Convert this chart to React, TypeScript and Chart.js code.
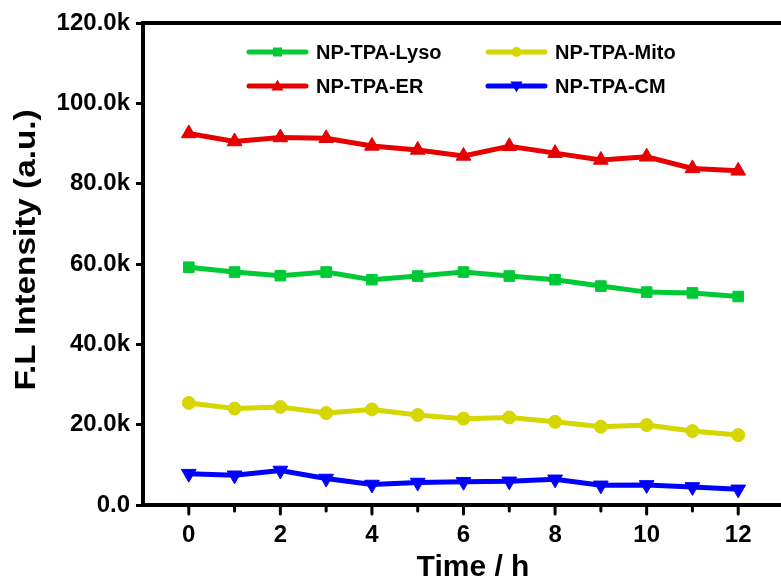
import React, { useEffect, useRef } from "react";
import { Chart, registerables } from "chart.js";

Chart.register(...registerables);

const timeHours = [0, 1, 2, 3, 4, 5, 6, 7, 8, 9, 10, 11, 12];
const lysoValues = [59200, 58000, 57100, 58000, 56100, 57000, 58000, 57000, 56100, 54500, 53000, 52800, 51900];
const mitoValues = [25400, 24000, 24400, 22900, 23800, 22400, 21500, 21800, 20700, 19500, 19900, 18400, 17400];
const erValues = [92500, 90500, 91500, 91300, 89400, 88400, 86900, 89300, 87600, 85900, 86700, 83800, 83200];
const cmValues = [7800, 7400, 8600, 6600, 5100, 5600, 5800, 5900, 6400, 4900, 5000, 4500, 3900];
const seriesNames = ["NP-TPA-Lyso", "NP-TPA-Mito", "NP-TPA-ER", "NP-TPA-CM"];
const yTickValues = [0, 20000, 40000, 60000, 80000, 100000, 120000];
const xLabelValues = [0, 2, 4, 6, 8, 10, 12];

const GREEN = "#00C936";
const YELLOW = "#D6D600";
const RED = "#E60000";
const BLUE = "#0000FF";
const FONT = "Arial, 'Liberation Sans', sans-serif";

function drawMarker(ctx: CanvasRenderingContext2D, style: string, x: number, y: number, s: number, color: string) {
  ctx.save();
  ctx.fillStyle = color;
  ctx.beginPath();
  if (style === "rect") {
    ctx.rect(x - s, y - s, 2 * s, 2 * s);
  } else if (style === "circle") {
    ctx.arc(x, y, s, 0, Math.PI * 2);
  } else if (style === "up") {
    ctx.moveTo(x, y - s * 1.2);
    ctx.lineTo(x + s * 1.1, y + s * 0.8);
    ctx.lineTo(x - s * 1.1, y + s * 0.8);
    ctx.closePath();
  } else {
    ctx.moveTo(x, y + s * 1.2);
    ctx.lineTo(x + s * 1.1, y - s * 0.8);
    ctx.lineTo(x - s * 1.1, y - s * 0.8);
    ctx.closePath();
  }
  ctx.fill();
  ctx.restore();
}

const decorPlugin = {
  id: "decor",
  afterDraw(chart: any) {
    const ctx: CanvasRenderingContext2D = chart.ctx;
    const { left, right, top, bottom } = chart.chartArea;
    ctx.save();
    // frame top + right
    ctx.strokeStyle = "#000";
    ctx.lineWidth = 4;
    ctx.beginPath();
    ctx.moveTo(left - 2, top);
    ctx.lineTo(right, top);
    ctx.lineTo(right, bottom);
    ctx.stroke();
    // x tick marks (major/minor)
    const xs = chart.scales.x;
    ctx.lineWidth = 3;
    ctx.lineCap = "round";
    for (const t of timeHours) {
      const px = xs.getPixelForValue(t);
      const len = t % 2 === 0 ? 9 : 6;
      ctx.beginPath();
      ctx.moveTo(px, bottom);
      ctx.lineTo(px, bottom + len);
      ctx.stroke();
    }
    // axis titles
    ctx.fillStyle = "#000";
    ctx.font = `bold 30px ${FONT}`;
    ctx.textAlign = "center";
    ctx.textBaseline = "middle";
    ctx.fillText("Time / h", 473, 568);
    ctx.save();
    ctx.translate(27, 250);
    ctx.rotate(-Math.PI / 2);
    ctx.scale(1.11, 1);
    ctx.fillText("F.L Intensity (a.u.)", 0, 0);
    ctx.restore();
    // legend
    const items = [
      { name: seriesNames[0], color: GREEN, style: "rect", s: 4.5, lx: 249, ty: 52 },
      { name: seriesNames[1], color: YELLOW, style: "circle", s: 5, lx: 488, ty: 52 },
      { name: seriesNames[2], color: RED, style: "up", s: 5.5, lx: 249, ty: 86 },
      { name: seriesNames[3], color: BLUE, style: "down", s: 5.5, lx: 488, ty: 86 },
    ];
    ctx.font = `bold 20px ${FONT}`;
    ctx.textAlign = "left";
    for (const it of items) {
      ctx.strokeStyle = it.color;
      ctx.lineWidth = 5;
      ctx.lineCap = "round";
      ctx.beginPath();
      ctx.moveTo(it.lx, it.ty);
      ctx.lineTo(it.lx + 57, it.ty);
      ctx.stroke();
      drawMarker(ctx, it.style, it.lx + 28.5, it.ty, it.s, it.color);
      ctx.fillStyle = "#000";
      ctx.fillText(it.name, it.lx + 67, it.ty + 1);
    }
    ctx.restore();
  },
};

export default function App() {
  const ref = useRef<HTMLCanvasElement | null>(null);
  useEffect(() => {
    if (!ref.current) return;
    const mk = (label: string, data: number[], color: string, style: any, radius: number, rotation = 0) => ({
      label,
      data: data.map((v, i) => ({ x: timeHours[i], y: v })),
      borderColor: color,
      backgroundColor: color,
      borderWidth: 5,
      pointStyle: style,
      pointRadius: radius,
      pointRotation: rotation,
      pointBorderWidth: 1,
      pointBorderColor: color,
      pointBackgroundColor: color,
      tension: 0,
    });
    const chart = new Chart(ref.current, {
      type: "line",
      data: {
        datasets: [
          mk(seriesNames[0], lysoValues, GREEN, "rect", 7.5),
          mk(seriesNames[1], mitoValues, YELLOW, "circle", 6.5),
          mk(seriesNames[2], erValues, RED, "triangle", 8.5),
          mk(seriesNames[3], cmValues, BLUE, "triangle", 8.5, 180),
        ],
      },
      options: {
        animation: false,
        responsive: false,
        maintainAspectRatio: false,
        layout: { padding: { left: 0, right: 16, top: 23, bottom: 0 } },
        plugins: { legend: { display: false }, tooltip: { enabled: false } },
        scales: {
          x: {
            type: "linear",
            min: -1,
            max: 13,
            afterFit: (s: any) => { s.height = 79; },
            afterBuildTicks: (s: any) => {
              s.ticks = xLabelValues.map((v) => ({ value: v }));
            },
            ticks: {
              callback: (v: any) => String(v),
              font: { family: FONT, size: 24, weight: "bold" },
              color: "#000",
              padding: 16,
              maxRotation: 0,
              autoSkip: false,
            },
            grid: { display: true, drawOnChartArea: false, drawTicks: false, color: "rgba(0,0,0,0)" },
            border: { display: true, color: "#000", width: 4 },
          },
          y: {
            min: 0,
            max: 120000,
            afterFit: (s: any) => { s.width = 143; },
            afterBuildTicks: (s: any) => {
              s.ticks = yTickValues.map((v) => ({ value: v }));
            },
            ticks: {
              callback: (v: any) => (v === 0 ? "0.0" : (Number(v) / 1000).toFixed(1) + "k"),
              font: { family: FONT, size: 24, weight: "bold" },
              color: "#000",
              padding: 6,
            },
            grid: { drawOnChartArea: false, drawTicks: true, tickLength: 7, tickWidth: 3, tickColor: "#000" },
            border: { display: true, color: "#000", width: 4 },
          },
        },
      },
      plugins: [decorPlugin],
    });
    return () => chart.destroy();
  }, []);
  return (
    <div style={{ position: "fixed", left: 0, top: 0, width: 781, height: 584, overflow: "hidden", background: "#fff" }}>
      <canvas ref={ref} width={800} height={584} style={{ width: 800, height: 584, display: "block" }} />
    </div>
  );
}
